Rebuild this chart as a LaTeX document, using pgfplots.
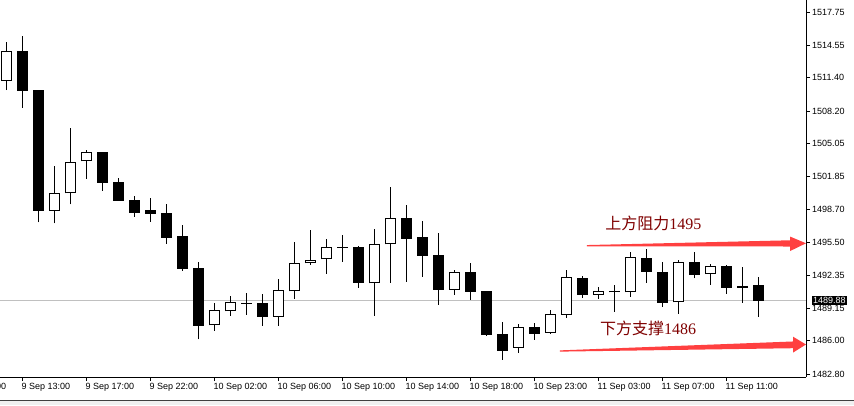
\documentclass[border=0pt]{standalone}
\usepackage{pgfplots}
\usepackage{pgfplotstable}
\usepackage{fontspec}
\pgfplotsset{compat=1.18}
\setmainfont{Liberation Sans}
\newfontfamily\cjk{Noto Sans CJK SC}
\newfontfamily\sernum{Liberation Serif}
\definecolor{notered}{RGB}{128,0,0}
\definecolor{arrowred}{RGB}{255,64,64}
\definecolor{pricegray}{RGB}{192,192,192}

% H1 candles, bullish (hollow) and bearish (filled): i open high low close
\pgfplotstableread{
i  o       h       l       c
0  1511.12 1514.85 1510.22 1513.96
3  1498.57 1502.88 1497.35 1500.24
4  1500.24 1506.55 1499.18 1503.24
5  1503.33 1504.43 1501.65 1504.20
13 1487.50 1489.65 1486.98 1488.95
14 1488.85 1490.33 1488.43 1489.72
17 1488.33 1491.97 1487.46 1490.88
18 1490.78 1495.54 1490.07 1493.49
19 1493.49 1496.70 1493.35 1493.78
20 1493.87 1495.83 1492.48 1495.03
23 1491.55 1496.80 1488.43 1495.32
24 1495.32 1500.85 1491.61 1497.83
28 1490.94 1492.84 1490.45 1492.62
32 1485.34 1487.63 1484.85 1487.34
34 1486.79 1488.98 1486.69 1488.56
35 1488.52 1492.84 1488.23 1492.13
37 1490.45 1491.17 1490.07 1490.81
39 1490.69 1494.58 1490.26 1494.07
42 1489.72 1493.80 1488.62 1493.58
44 1492.45 1493.42 1491.42 1493.20
}\bull

\pgfplotstableread{
i  o       h       l       c
1  1513.98 1515.43 1508.51 1510.15
2  1510.22 1510.22 1497.45 1498.57
6  1504.20 1504.20 1500.50 1501.27
7  1501.31 1501.69 1499.53 1499.53
8  1499.57 1499.98 1497.99 1498.37
9  1498.60 1499.79 1497.50 1498.28
10 1498.34 1499.21 1495.38 1495.96
11 1496.12 1497.18 1492.77 1492.96
12 1493.03 1493.61 1486.15 1487.46
15 1489.68 1490.62 1488.52 1489.58
16 1489.62 1490.52 1487.46 1488.33
21 1495.08 1496.22 1493.64 1494.98
22 1495.03 1495.13 1491.13 1491.61
25 1497.83 1499.12 1491.71 1495.86
26 1496.03 1497.57 1492.19 1494.22
27 1494.29 1496.41 1489.49 1490.94
29 1492.62 1493.52 1489.97 1490.74
30 1490.81 1490.81 1486.47 1486.56
31 1486.66 1487.82 1484.18 1485.05
33 1487.34 1487.72 1486.11 1486.69
36 1492.04 1492.23 1490.16 1490.45
38 1490.84 1491.39 1488.81 1490.69
40 1493.97 1494.87 1491.61 1492.68
41 1492.65 1493.61 1489.30 1489.68
43 1493.61 1494.58 1492.04 1492.39
45 1493.25 1493.32 1490.55 1491.13
46 1491.29 1493.13 1489.68 1491.13
47 1491.39 1492.16 1488.33 1489.88
}\bear

\pgfplotsset{
  candle/.style 2 args={draw=none, mark=none,
    error bars/y dir=plus, error bars/y explicit, error bars/error mark=none,
    error bars/error bar style={line width=#1, draw=#2}},
}

\begin{document}
\begin{tikzpicture}
\fill[white] (0,0) rectangle (854pt,405pt);
\begin{axis}[
  at={(0pt,28pt)}, anchor=south west,
  width=806pt, height=377pt, scale only axis,
  xmin=-0.406, xmax=49.969,
  ymin=1482.51, ymax=1518.91,
  axis x line=bottom, axis y line=right,
  axis line style={-, black, line width=1pt},
  tick align=outside, major tick length=4pt,
  tick style={black, line width=0.8pt},
  xtick={1,5,9,13,17,21,25,29,33,37,41,45},
  xticklabels={9 Sep 13:00,9 Sep 17:00,9 Sep 22:00,10 Sep 02:00,10 Sep 06:00,10 Sep 10:00,
    10 Sep 14:00,10 Sep 18:00,10 Sep 23:00,11 Sep 03:00,11 Sep 07:00,11 Sep 11:00},
  ytick={1482.80,1486.00,1489.15,1492.35,1495.50,1498.70,1501.85,1505.05,1508.20,1511.40,1514.55,1517.75},
  yticklabels={1482.80,1486.00,1489.15,1492.35,1495.50,1498.70,1501.85,1505.05,1508.20,1511.40,1514.55,1517.75},
  ticklabel style={font=\fontsize{9}{10}\selectfont},
  xticklabel style={anchor=north west, inner sep=0pt, xshift=-1pt, yshift=-2pt},
  yticklabel style={anchor=west, inner sep=0pt, xshift=2pt},
  clip=false,
]
% current price line
\addplot[pricegray, line width=0.8pt] coordinates {(-0.406,1489.88) (49.969,1489.88)};

% wicks
\addplot[candle={1pt}{black}] table[x=i, y=l, y error plus expr=\thisrow{h}-\thisrow{l}] {\bull};
\addplot[candle={1pt}{black}] table[x=i, y=l, y error plus expr=\thisrow{h}-\thisrow{l}] {\bear};

% bodies
\addplot[candle={11pt}{black}] table[x=i, y=c, y error plus expr=\thisrow{o}-\thisrow{c}] {\bear};
\addplot[candle={11pt}{black}] table[x=i, y=o, y error plus expr=\thisrow{c}-\thisrow{o}] {\bull};
\addplot[candle={8.8pt}{white}] table[x=i, y expr=\thisrow{o}+0.1,
  y error plus expr={max(\thisrow{c}-\thisrow{o}-0.2,0)}] {\bull};

% resistance / support arrows
\fill[arrowred] (axis cs:36.28,1495.25) -- (axis cs:48.97,1495.71) -- (axis cs:48.97,1496.07)
  -- (axis cs:49.97,1495.42) -- (axis cs:48.97,1494.67) -- (axis cs:48.97,1495.11)
  -- (axis cs:36.28,1495.12) -- cycle;
\fill[arrowred] (axis cs:34.59,1485.08) -- (axis cs:49.16,1485.94) -- (axis cs:49.16,1486.40)
  -- (axis cs:49.97,1485.65) -- (axis cs:49.16,1484.87) -- (axis cs:49.16,1485.29)
  -- (axis cs:34.59,1484.96) -- cycle;
\node[anchor=west, inner sep=0pt, text=notered] at (axis cs:37.41,1497.37)
  {\fontsize{16}{16}\selectfont\cjk 上方阻力\sernum 1495};
\node[anchor=west, inner sep=0pt, text=notered] at (axis cs:37.09,1487.21)
  {\fontsize{16}{16}\selectfont\cjk 下方支撑\sernum 1486};

% current price tag
\node[anchor=west, fill=black, text=white, inner xsep=1pt, inner ysep=1pt,
  font=\fontsize{9}{10}\selectfont] at (axis cs:49.969,1489.88) [xshift=6pt] {1489.88};

% first label, cut by the left edge as in the terminal
\node[anchor=north west, inner sep=0pt, font=\fontsize{9}{10}\selectfont]
  at (axis cs:-3,1482.51) [xshift=-1pt, yshift=-6pt] {9 Sep 09:00};
\end{axis}
\fill[black!6] (0,0) rectangle (854pt,4.5pt);
\draw[black!75, line width=1pt] (0,5pt) -- (854pt,5pt);
\pgfresetboundingbox
\useasboundingbox (0,0) rectangle (854pt,405pt);
\end{tikzpicture}
\end{document}
